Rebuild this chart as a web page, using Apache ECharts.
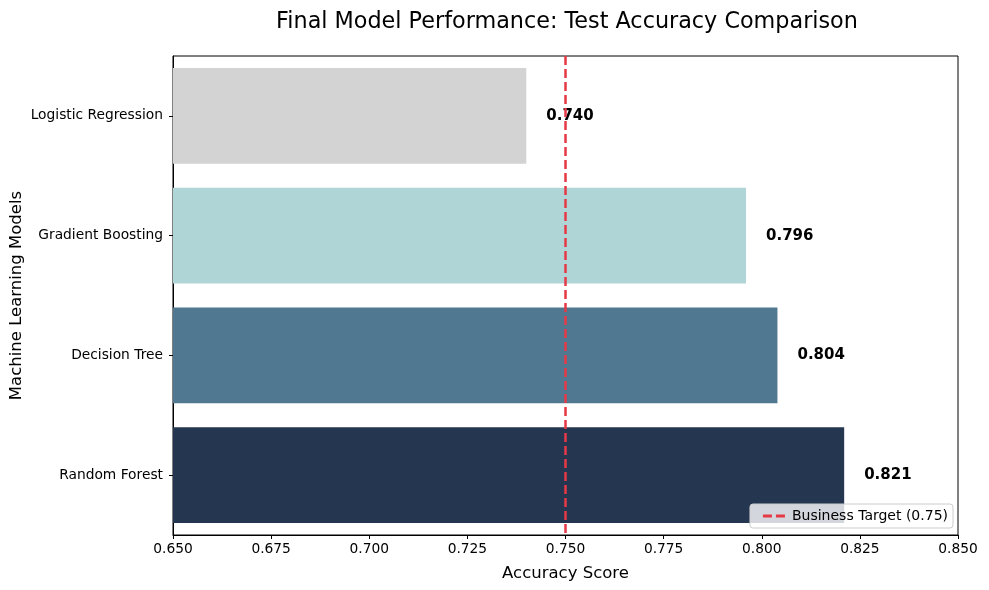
<!DOCTYPE html>
<html>
<head>
<meta charset="utf-8">
<script src="https://cdn.jsdelivr.net/npm/echarts@6/dist/echarts.min.js"></script>
<style>
  html, body { margin: 0; padding: 0; background: #fff; }
  #chart { width: 989px; height: 590px; }
</style>
</head>
<body>
<div id="chart"></div>
<script>
// 模型名称（从上到下）
const models = ['Logistic Regression', 'Gradient Boosting', 'Decision Tree', 'Random Forest']
// 测试集准确率
const accuracy = [0.740, 0.796, 0.804, 0.821]
// 每根柱子的颜色
const barColors = ['#d3d3d3', '#b0d5d6', '#517891', '#253650']
// x 轴刻度
const xTicks = [0.650, 0.675, 0.700, 0.725, 0.750, 0.775, 0.800, 0.825, 0.850]
// 业务目标
const target = 0.75
const targetName = 'Business Target (0.75)'

const font = 'DejaVu Sans'
const chart = echarts.init(document.getElementById('chart'))

chart.setOption({
  animation: false,
  textStyle: { fontFamily: font },
  title: {
    text: 'Final Model Performance: Test Accuracy Comparison',
    left: 562,
    textAlign: 'center',
    top: 6,
    textStyle: { fontFamily: font, fontSize: 22.3, fontWeight: 'normal', color: '#000' }
  },
  grid: {
    left: 173,
    right: 31,
    top: 56,
    bottom: 55,
    outerBoundsMode: 'none',
    show: true,
    borderColor: '#000',
    borderWidth: 1
  },
  legend: {
    data: [{ name: targetName, icon: 'path://M0,0H9V3H0Z M13,0H22V3H13Z' }],
    right: 36,
    bottom: 62,
    itemWidth: 22,
    itemHeight: 3,
    itemGap: 8,
    padding: [5, 5, 5, 13],
    backgroundColor: 'rgba(255,255,255,0.8)',
    borderColor: '#cccccc',
    borderWidth: 1,
    borderRadius: 3,
    textStyle: { fontFamily: font, fontSize: 14, color: '#000', padding: [0, 0, 0, 2] }
  },
  xAxis: {
    type: 'value',
    min: xTicks[0],
    max: xTicks[xTicks.length - 1],
    interval: 0.025,
    name: 'Accuracy Score',
    nameLocation: 'middle',
    nameGap: 30,
    nameMoveOverlap: false,
    nameTextStyle: { fontFamily: font, fontSize: 16.5, color: '#000' },
    axisLine: { show: true, lineStyle: { color: '#000' } },
    axisTick: { show: true, length: 4, lineStyle: { color: '#000' } },
    axisLabel: {
      fontFamily: font,
      fontSize: 13.8,
      color: '#000',
      margin: 7,
      formatter: v => v.toFixed(3)
    },
    splitLine: { show: false }
  },
  yAxis: {
    type: 'category',
    data: models,
    inverse: true,
    name: 'Machine Learning Models',
    nameLocation: 'middle',
    nameGap: 148,
    nameMoveOverlap: false,
    nameTextStyle: { fontFamily: font, fontSize: 16.5, color: '#000' },
    axisLine: { show: true, lineStyle: { color: '#000' } },
    axisTick: { show: true, alignWithLabel: true, length: 4, lineStyle: { color: '#000' } },
    axisLabel: { fontFamily: font, fontSize: 13.8, color: '#000', margin: 10 }
  },
  series: [
    {
      type: 'bar',
      barCategoryGap: '20%',
      data: accuracy.map((v, i) => ({ value: v, itemStyle: { color: barColors[i] } })),
      label: {
        show: true,
        position: 'right',
        distance: 20,
        fontFamily: font,
        fontSize: 15,
        fontWeight: 'bold',
        color: '#000',
        formatter: p => p.value.toFixed(3)
      },
      z: 2
    },
    {
      // 业务目标虚线
      name: targetName,
      type: 'line',
      data: [],
      lineStyle: { color: '#e63946', type: 'dashed', width: 2 },
      itemStyle: { color: '#e63946' },
      markLine: {
        silent: true,
        symbol: 'none',
        label: { show: false },
        lineStyle: { color: '#e63946', type: [9, 4], width: 2.5 },
        data: [{ xAxis: target }]
      },
      z: 3
    }
  ]
})
</script>
</body>
</html>
